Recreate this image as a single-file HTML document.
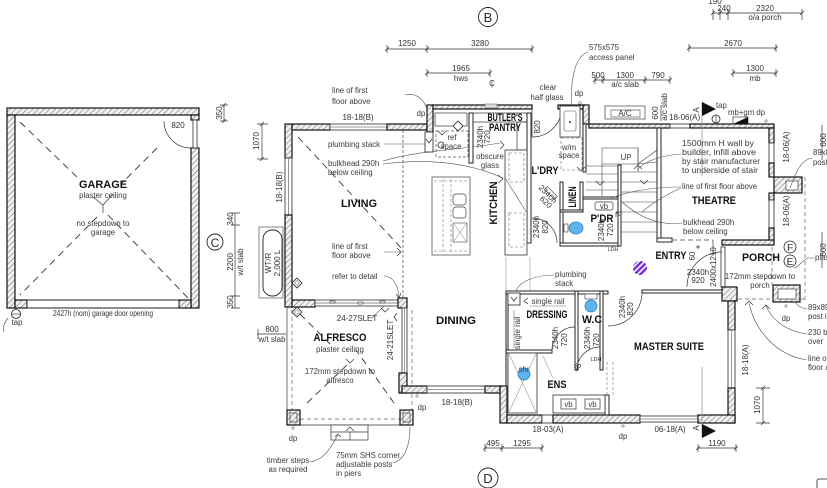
<!DOCTYPE html>
<html><head><meta charset="utf-8">
<style>
html,body{margin:0;padding:0;background:#fff;}
svg{display:block;}
text{font-family:"Liberation Sans",sans-serif;fill:#2a2a2a;}
.r{font-weight:bold;font-size:11px;fill:#111;}
.s{font-size:7.8px;fill:#3a3a3a;}
.d{font-family:"Liberation Sans Narrow","Liberation Sans",sans-serif;font-size:8px;fill:#333;}
.t{font-size:5.5px;fill:#333;}
.w{fill:url(#h);stroke:#111;stroke-width:1.2;}
.win{fill:#fff;stroke:#444;stroke-width:.9;}
.iw{fill:#fff;stroke:#222;stroke-width:1;}
.ln{fill:none;stroke:#333;stroke-width:.7;}
.lf{fill:none;stroke:#555;stroke-width:.6;}
.dash{fill:none;stroke:#333;stroke-width:.9;stroke-dasharray:7 5;}
.fd{fill:none;stroke:#666;stroke-width:.7;stroke-dasharray:4 3;}
</style></head><body>
<svg width="827" height="488" viewBox="0 0 827 488" xmlns="http://www.w3.org/2000/svg">
<defs>
<pattern id="h" width="4" height="4" patternUnits="userSpaceOnUse" patternTransform="rotate(45)">
<rect width="4" height="4" fill="#f0f0f0"/><line x1="0" y1="0" x2="0" y2="4" stroke="#6a6a6a" stroke-width="1"/>
</pattern>
<pattern id="pp" width="4" height="4" patternUnits="userSpaceOnUse" patternTransform="rotate(45)">
<rect width="4" height="4" fill="#7b2fd6"/><rect width="1.5" height="4" fill="#fff"/>
</pattern>
</defs>
<rect width="827" height="488" fill="#fff"/>

<!-- ================= GARAGE ================= -->
<rect x="7" y="108" width="192" height="7" class="w"/>
<rect x="7" y="115" width="8" height="193" class="w"/>
<rect x="191" y="115" width="8" height="5" class="w"/>
<rect x="191" y="148" width="8" height="160" class="w"/>
<rect x="193" y="120" width="4" height="28" class="win"/>
<path d="M164,121 A27,27 0 0,0 191,148" class="ln"/>
<rect x="15" y="300" width="12" height="8" class="w"/>
<rect x="179" y="300" width="12" height="8" class="w"/>
<rect x="27" y="300" width="152" height="8" fill="#fff" stroke="#222" stroke-width="1"/>
<g class="dash">
<line x1="20" y1="122" x2="80" y2="180"/>
<line x1="157" y1="148" x2="122" y2="183"/>
<line x1="97" y1="217" x2="20" y2="295"/>
<line x1="108" y1="215" x2="188" y2="298"/>
</g>
<path d="M93,197 L103,205 L113,194 M103,205 L103,213" class="ln"/>
<text x="103" y="188" class="r" text-anchor="middle" textLength="48" lengthAdjust="spacingAndGlyphs" font-size="12">GARAGE</text>
<text x="103" y="198" class="s" text-anchor="middle">plaster ceiling</text>
<text x="103" y="226" class="s" text-anchor="middle">no stepdown to</text>
<text x="103" y="235" class="s" text-anchor="middle">garage</text>
<text x="178" y="128" class="d" text-anchor="middle" font-size="7">820</text>
<text x="103" y="316" class="d" text-anchor="middle" textLength="100" lengthAdjust="spacingAndGlyphs">2427h (nom) garage door opening</text>
<circle cx="16" cy="314" r="4.5" fill="#fff" stroke="#222" stroke-width=".8"/>
<line x1="11.5" y1="314" x2="20.5" y2="314" stroke="#222" stroke-width=".6"/>
<text x="17" y="325" class="s" text-anchor="middle">tap</text>
<path d="M8,318 Q2,325 4,332" class="lf"/>

<!-- left dims -->
<line x1="224" y1="105" x2="224" y2="121" class="ln"/>
<path d="M220,105 L228,105 M220,121 L228,121 M222,107 L226,103 M222,123 L226,119" class="ln"/>
<text transform="translate(222,113) rotate(-90)" class="d" text-anchor="middle">350</text>
<line x1="262" y1="124" x2="262" y2="159" class="ln"/>
<path d="M257,124 L268,124 M257,159 L268,159 M260,126 L264,122 M260,161 L264,157" class="ln"/>
<text transform="translate(259,141) rotate(-90)" class="d" text-anchor="middle">1070</text>
<text transform="translate(282,187) rotate(-90)" class="d" text-anchor="middle">18-18(B)</text>
<line x1="235" y1="213" x2="235" y2="308" class="ln"/>
<path d="M231,213 L240,213 M231,225 L240,225 M231,296 L240,296 M231,308 L240,308" class="ln"/>
<text transform="translate(233,219) rotate(-90)" class="d" text-anchor="middle">340</text>
<text transform="translate(233,262) rotate(-90)" class="d" text-anchor="middle">2200</text>
<text transform="translate(243,262) rotate(-90)" class="d" text-anchor="middle">w/t slab</text>
<text transform="translate(233,302) rotate(-90)" class="d" text-anchor="middle">350</text>
<circle cx="215" cy="242" r="8" fill="none" stroke="#222" stroke-width=".9"/>
<text x="215" y="247" text-anchor="middle" font-size="12" fill="#222">C</text>
<!-- water tank -->
<rect x="259" y="227" width="24" height="71" fill="none" stroke="#555" stroke-width=".7"/>
<rect x="263" y="230" width="19" height="66" rx="9" fill="none" stroke="#222" stroke-width=".9"/>
<text transform="translate(271,263) rotate(-90)" class="d" text-anchor="middle" font-size="7">WT/R</text>
<text transform="translate(280,263) rotate(-90)" class="d" text-anchor="middle" font-size="7">2,000 L</text>
<text x="272" y="332" class="d" text-anchor="middle">800</text>
<line x1="257" y1="334" x2="286" y2="334" class="ln"/>
<line x1="258" y1="329" x2="258" y2="339" class="ln"/>
<text x="272" y="342" class="d" text-anchor="middle">w/t slab</text>

<!-- ================= LIVING / ALFRESCO ================= -->
<rect x="285" y="124" width="7" height="34" class="w"/>
<rect x="285" y="158" width="7" height="57" class="win"/><line x1="288.5" y1="158" x2="288.5" y2="215" stroke="#777" stroke-width=".8"/>
<rect x="285" y="215" width="7" height="92" class="w"/>
<rect x="292" y="124" width="38" height="6" class="w"/>
<rect x="330" y="124" width="57" height="6" class="win"/><line x1="330" y1="127" x2="387" y2="127" stroke="#777" stroke-width=".8"/>
<rect x="387" y="124" width="40" height="6" class="w"/>
<rect x="427" y="105" width="6" height="27" class="w"/>
<rect x="292" y="300" width="23" height="7" class="w"/>
<rect x="315" y="300" width="83" height="6" class="win"/>
<line x1="315" y1="303" x2="398" y2="303" stroke="#666" stroke-width=".7"/>
<rect x="330" y="301" width="5" height="2" fill="#fff" stroke="#333" stroke-width=".6"/>
<rect x="358" y="302" width="5" height="2" fill="#fff" stroke="#333" stroke-width=".6"/>
<rect x="380" y="301" width="5" height="2" fill="#fff" stroke="#333" stroke-width=".6"/>
<rect x="398" y="298" width="9" height="10" class="w"/>
<!-- dining east wall -->
<rect x="402" y="308" width="5" height="65" class="win"/><line x1="404.5" y1="308" x2="404.5" y2="373" stroke="#777" stroke-width=".7"/>
<rect x="399" y="373" width="8" height="20" class="w"/>
<!-- alfresco -->
<line x1="287" y1="307" x2="287" y2="425" class="ln"/>
<line x1="292" y1="310" x2="292" y2="410" class="fd"/>
<line x1="287" y1="425" x2="413" y2="425" class="ln"/>
<line x1="300" y1="419" x2="400" y2="419" class="fd"/>
<line x1="412" y1="310" x2="412" y2="410" class="fd"/>
<rect x="287" y="410" width="13" height="15" class="w"/>
<rect x="400" y="410" width="13" height="15" class="w"/>
<rect x="290" y="413" width="7" height="9" fill="none" stroke="#222" stroke-width=".6"/>
<rect x="403" y="413" width="7" height="9" fill="none" stroke="#222" stroke-width=".6"/>
<rect x="331" y="425" width="37" height="15" fill="#fff" stroke="#333" stroke-width=".7"/>
<line x1="331" y1="432" x2="368" y2="432" class="ln"/>
<line x1="350" y1="432" x2="350" y2="440" class="ln"/>
<path d="M346,431 L350,427 L354,431" class="ln"/>
<g class="dash">
<line x1="298" y1="137" x2="403" y2="250"/>
<line x1="307" y1="403" x2="348" y2="364"/>
<line x1="394" y1="403" x2="356" y2="350"/>
<line x1="300" y1="314" x2="330" y2="344"/>
</g>
<line x1="403" y1="130" x2="403" y2="298" stroke="#555" stroke-width=".8" stroke-dasharray="3 2"/>
<path d="M346,359 L350,363 L354,359" class="ln"/>
<!-- diamonds -->
<path d="M297,278 L302,283 L297,288 L292,283 Z M297,307 L302,312 L297,317 L292,312 Z" fill="#fff" stroke="#222" stroke-width=".8"/>
<path d="M297,280.5 L299.5,283 L297,285.5 L294.5,283 Z M297,309.5 L299.5,312 L297,314.5 L294.5,312 Z" fill="none" stroke="#222" stroke-width=".5"/>

<!-- living texts -->
<text x="359" y="207" class="r" text-anchor="middle" textLength="36" lengthAdjust="spacingAndGlyphs">LIVING</text>
<text x="332" y="93" class="s">line of first</text>
<text x="332" y="104" class="s">floor above</text>
<path d="M405,95 C416,92 425,100 427,110" class="lf"/>
<text x="421" y="116" class="s" text-anchor="middle">dp</text>
<text x="358" y="120" class="d" text-anchor="middle">18-18(B)</text>
<text x="328" y="147" class="s">plumbing stack</text>
<line x1="384" y1="144" x2="425" y2="144" class="lf"/>
<text x="328" y="166" class="s">bulkhead 290h</text>
<text x="328" y="175" class="s">below ceiling</text>
<path d="M383,161 C420,150 460,150 500,143" class="lf"/>
<path d="M383,164 C430,158 470,163 503,178" class="lf"/>
<text x="332" y="249" class="s">line of first</text>
<text x="332" y="258" class="s">floor above</text>
<line x1="384" y1="252" x2="401" y2="252" class="lf"/>
<path d="M397,248 L401,252 L397,256" class="ln"/>
<text x="332" y="279" class="s">refer to detail</text>
<path d="M384,276 C393,276 398,285 399,297" class="lf"/>
<path d="M396,294 L399,298 L401,293" class="ln"/>
<text x="357" y="321" class="d" text-anchor="middle">24-27SLET</text>
<line x1="372" y1="318" x2="384" y2="306" class="lf"/>
<path d="M381,308 L385,312 L389,308" class="ln"/>
<path d="M397,313 L394,317 L397,321" class="ln"/>
<text transform="translate(393,340) rotate(-90)" class="d" text-anchor="middle">24-21SLET</text>
<text x="340" y="341" class="r" text-anchor="middle" textLength="53" lengthAdjust="spacingAndGlyphs">ALFRESCO</text>
<text x="340" y="352" class="s" text-anchor="middle">plaster ceiling</text>
<text x="340" y="374" class="s" text-anchor="middle">172mm stepdown to</text>
<text x="340" y="383" class="s" text-anchor="middle">alfresco</text>
<text x="293" y="441" class="s" text-anchor="middle">dp</text>
<circle cx="293" cy="428" r="1.2" fill="none" stroke="#333" stroke-width=".5"/>
<text x="288" y="463" class="s" text-anchor="middle">timber steps</text>
<text x="288" y="472" class="s" text-anchor="middle">as required</text>
<path d="M310,462 C325,460 332,445 338,435" class="lf"/>
<path d="M335,437 L338,434 L341,437" class="ln"/>
<text x="336" y="458" class="s">75mm SHS corner</text>
<text x="336" y="467" class="s">adjustable posts</text>
<text x="336" y="476" class="s">in piers</text>
<path d="M393,463 C405,460 410,445 410,427" class="lf"/>
<text x="422" y="410" class="s" text-anchor="middle">dp</text>
<circle cx="417" cy="396" r="1.2" fill="none" stroke="#333" stroke-width=".5"/>

<!-- ================= DINING / KITCHEN ================= -->
<rect x="402" y="386" width="25" height="7" class="w"/>
<rect x="427" y="386" width="58" height="7" class="win"/><line x1="427" y1="389.5" x2="485" y2="389.5" stroke="#777" stroke-width=".7"/>
<rect x="485" y="386" width="15" height="7" class="w"/>
<text x="457" y="405" class="d" text-anchor="middle">18-18(B)</text>
<text x="456" y="324" class="r" text-anchor="middle" textLength="40" lengthAdjust="spacingAndGlyphs">DINING</text>

<!-- top building walls -->
<rect x="433" y="105" width="99" height="4" class="w"/>
<rect x="485" y="104" width="12" height="4" fill="#ddd" stroke="#555" stroke-width=".5"/>
<rect x="558" y="105" width="27" height="4" class="w"/>
<rect x="583" y="105" width="6" height="19" class="w"/>
<path d="M532,137 A30,30 0 0,0 562,107" class="ln"/>
<line x1="532" y1="109" x2="532" y2="137" class="ln"/>
<!-- ref space etc -->
<rect x="435" y="113" width="32" height="13" fill="none" stroke="#333" stroke-width=".7"/>
<rect x="436" y="131" width="32" height="26" fill="none" stroke="#555" stroke-width=".7" stroke-dasharray="3 2"/>
<rect x="425" y="132" width="8" height="20" fill="#fff" stroke="#222" stroke-width=".8"/>
<path d="M426,139 L429,143 L432,139" class="ln"/>
<path d="M458,121 L463,126 L458,131 L453,126 Z" fill="#fff" stroke="#222" stroke-width=".8"/>
<circle cx="441" cy="145" r="3" fill="none" stroke="#222" stroke-width=".8"/>
<path d="M438,131 L442,135 L446,131" class="ln"/>
<text x="452" y="140" class="s" text-anchor="middle">ref</text>
<text x="451" y="149" class="s" text-anchor="middle">space</text>
<!-- pantry -->
<rect x="469" y="113" width="4" height="50" class="iw"/>
<rect x="473" y="113" width="54" height="9" fill="none" stroke="#333" stroke-width=".7"/>
<rect x="517" y="122" width="10" height="28" fill="none" stroke="#333" stroke-width=".7"/>
<text x="505" y="121" class="r" text-anchor="middle" font-size="8.5" textLength="35" lengthAdjust="spacingAndGlyphs">BUTLER'S</text>
<text x="505" y="131" class="r" text-anchor="middle" font-size="8.5" textLength="32" lengthAdjust="spacingAndGlyphs">PANTRY</text>
<text transform="translate(483,137) rotate(-90)" class="d" text-anchor="middle" font-size="7">2340h</text>
<text transform="translate(490,137) rotate(-90)" class="d" text-anchor="middle" font-size="7">720</text>
<text transform="translate(540,127) rotate(-90)" class="d" text-anchor="middle" font-size="7">820</text>
<path d="M500,141 L504,145 L500,149" class="ln"/>
<text x="490" y="159" class="s" text-anchor="middle">obscure</text>
<text x="490" y="168" class="s" text-anchor="middle">glass</text>
<path d="M498,175 L503,179 L498,183" class="ln"/>
<!-- kitchen divider & bench -->
<rect x="527" y="113" width="4" height="130" class="iw"/>
<rect x="505" y="150" width="22" height="105" fill="#fff" stroke="#333" stroke-width=".8"/>
<rect x="509" y="153" width="15" height="29" fill="none" stroke="#666" stroke-width=".6" stroke-dasharray="3 2"/>
<rect x="509" y="213" width="15" height="34" fill="none" stroke="#666" stroke-width=".6" stroke-dasharray="3 2"/>
<line x1="505" y1="178" x2="527" y2="213" class="lf"/>
<line x1="527" y1="243" x2="531" y2="243" class="ln"/>
<text transform="translate(497,203) rotate(-90)" class="r" text-anchor="middle" textLength="43" lengthAdjust="spacingAndGlyphs">KITCHEN</text>
<!-- island -->
<rect x="432" y="177" width="38" height="78" fill="#fff" stroke="#555" stroke-width=".8"/>
<line x1="443" y1="179" x2="443" y2="253" stroke="#777" stroke-width=".6" stroke-dasharray="3 2"/>
<line x1="451" y1="179" x2="451" y2="253" stroke="#777" stroke-width=".6" stroke-dasharray="3 2"/>
<line x1="434" y1="181" x2="468" y2="181" stroke="#777" stroke-width=".6" stroke-dasharray="3 2"/>
<line x1="434" y1="251" x2="468" y2="251" stroke="#777" stroke-width=".6" stroke-dasharray="3 2"/>
<rect x="453" y="194" width="13" height="11" rx="3" fill="none" stroke="#444" stroke-width=".7"/>
<rect x="453" y="207" width="13" height="11" rx="3" fill="none" stroke="#444" stroke-width=".7"/>
<rect x="453" y="223" width="14" height="19" fill="none" stroke="#444" stroke-width=".6"/>
<path d="M454,224 L466,241 M466,224 L454,241" stroke="#777" stroke-width=".5"/>
<line x1="506" y1="257" x2="506" y2="290" stroke="#999" stroke-width=".6"/>
<line x1="530" y1="257" x2="530" y2="290" stroke="#999" stroke-width=".6"/>

<!-- ================= LAUNDRY / P'DR ================= -->
<rect x="560" y="106" width="20" height="31" fill="#fff" stroke="#333" stroke-width=".8"/>
<rect x="564" y="111" width="12" height="20" rx="2" fill="none" stroke="#555" stroke-width=".6"/>
<circle cx="570" cy="122" r="1" fill="#333"/>
<rect x="561" y="138" width="21" height="32" fill="none" stroke="#666" stroke-width=".6" stroke-dasharray="3 2"/>
<text x="569" y="150" class="s" text-anchor="middle">w/m</text>
<text x="569" y="158" class="s" text-anchor="middle">space</text>
<rect x="583" y="124" width="3" height="48" class="iw"/>
<path d="M577,167 L581,171 L585,167" class="ln"/>
<text x="579" y="96" class="s" text-anchor="middle">dp</text>
<circle cx="580" cy="103" r="1.3" fill="none" stroke="#333" stroke-width=".5"/>
<path d="M588,52 C575,56 570,80 572,106" class="lf"/>
<text x="545" y="174" class="r" text-anchor="middle" textLength="27" lengthAdjust="spacingAndGlyphs">L'DRY</text>
<text x="548" y="90" class="s" text-anchor="middle">clear</text>
<text x="547" y="100" class="s" text-anchor="middle">half glass</text>
<!-- linen / pdr -->
<rect x="560" y="182" width="3" height="63" class="iw"/>
<rect x="580" y="182" width="3" height="28" class="iw"/>
<rect x="560" y="210" width="23" height="2" class="iw"/>
<rect x="583" y="197" width="35" height="2" class="iw"/>
<rect x="560" y="243" width="60" height="3" class="iw"/>
<rect x="618" y="165" width="3" height="81" class="iw"/>
<text transform="translate(576,197) rotate(-90)" class="r" text-anchor="middle" font-size="8" textLength="21" lengthAdjust="spacingAndGlyphs">LINEN</text>
<rect x="549" y="186" width="4" height="14" transform="rotate(-45 551 193)" fill="#fff" stroke="#333" stroke-width=".6"/>
<text transform="translate(546,196) rotate(45)" class="d" text-anchor="middle" font-size="6">2340h</text>
<text transform="translate(544,204) rotate(45)" class="d" text-anchor="middle" font-size="6">620</text>
<path d="M532,218 A25,25 0 0,1 557,243" class="ln"/>
<text transform="translate(539,227) rotate(-90)" class="d" text-anchor="middle" font-size="7">2340h</text>
<text transform="translate(548,227) rotate(-90)" class="d" text-anchor="middle" font-size="7">820</text>
<rect x="595" y="202" width="18" height="8" rx="2" fill="#fff" stroke="#333" stroke-width=".7"/>
<text x="604" y="209" class="s" text-anchor="middle" font-size="7">vb</text>
<text x="602" y="222" class="r" text-anchor="middle" font-size="10" textLength="23" lengthAdjust="spacingAndGlyphs">P'DR</text>
<ellipse cx="576" cy="228" rx="7" ry="6" fill="#5fb4ee" stroke="#2a7fc0" stroke-width=".8"/>
<rect x="564" y="224" width="4" height="8" fill="#fff" stroke="#333" stroke-width=".6"/>
<text transform="translate(604,230) rotate(-90)" class="d" text-anchor="middle" font-size="7">2340h</text>
<text transform="translate(613,230) rotate(-90)" class="d" text-anchor="middle" font-size="7">720</text>
<text x="613" y="251" class="t" text-anchor="middle">LDH</text>
<path d="M620,216 L616,212 M616,212 L616,217 M616,212 L621,212" class="ln"/>

<!-- ================= STAIRS ================= -->
<rect x="602" y="148" width="36" height="16" fill="none" stroke="#555" stroke-width=".6"/>
<text x="626" y="160" class="s" text-anchor="middle" font-size="9">UP</text>
<g stroke="#444" stroke-width=".6">
<line x1="586" y1="166" x2="618" y2="166"/>
<line x1="586" y1="174" x2="618" y2="174"/>
<line x1="586" y1="182" x2="618" y2="182"/>
<line x1="586" y1="190" x2="618" y2="190"/>
<line x1="602" y1="164" x2="602" y2="197"/>
<line x1="621" y1="172" x2="657" y2="172"/>
<line x1="621" y1="182" x2="657" y2="182"/>
<line x1="621" y1="192" x2="657" y2="192"/>
<line x1="621" y1="202" x2="657" y2="202"/>
<line x1="621" y1="212" x2="657" y2="212"/>
<line x1="621" y1="222" x2="657" y2="222"/>
<line x1="621" y1="232" x2="657" y2="232"/>
<line x1="638" y1="164" x2="657" y2="150"/>
<line x1="638" y1="164" x2="657" y2="162"/>
<line x1="638" y1="148" x2="638" y2="172"/>
</g>
<path d="M596,181 L600,185 L604,181" class="ln"/>
<path d="M634,169 L638,165 L642,169" class="ln"/>
<path d="M646,178 L642,182 L646,186" class="ln" transform="rotate(-90 644 182)"/>
<!-- theatre walls -->
<rect x="589" y="124" width="81" height="4" class="w"/>
<rect x="670" y="124" width="20" height="4" class="win"/>
<rect x="690" y="124" width="84" height="4" class="w"/>
<rect x="657" y="128" width="4" height="112" class="iw"/>
<rect x="657" y="238" width="15" height="4" class="iw"/>
<line x1="672" y1="240" x2="713" y2="240" stroke="#444" stroke-width=".8" stroke-dasharray="5 3"/>
<line x1="713" y1="240" x2="713" y2="256" class="ln"/>
<rect x="769" y="128" width="5" height="15" class="w"/>
<rect x="769" y="143" width="5" height="20" class="win"/>
<rect x="769" y="163" width="5" height="14" class="w"/>
<rect x="774" y="177" width="28" height="16" class="w"/>
<rect x="786" y="181" width="12" height="9" fill="#fff" stroke="#222" stroke-width=".6"/>
<rect x="769" y="193" width="5" height="7" class="w"/>
<rect x="769" y="200" width="5" height="28" class="win"/>
<rect x="769" y="228" width="5" height="15" class="w"/>
<rect x="722" y="240" width="52" height="5" class="w"/>
<line x1="702" y1="102" x2="702" y2="176" stroke="#888" stroke-width=".7"/>

<text x="682" y="146" class="s" textLength="72" lengthAdjust="spacingAndGlyphs">1500mm H wall by</text>
<text x="682" y="155" class="s" textLength="74" lengthAdjust="spacingAndGlyphs">builder, infill above</text>
<text x="682" y="164" class="s" textLength="78" lengthAdjust="spacingAndGlyphs">by stair manufacturer</text>
<text x="682" y="173" class="s" textLength="76" lengthAdjust="spacingAndGlyphs">to underside of stair</text>
<path d="M681,154 C665,155 645,160 637,170" class="lf"/>
<text x="682" y="189" class="s" textLength="75" lengthAdjust="spacingAndGlyphs">line of first floor above</text>
<path d="M681,187 C660,187 630,190 612,198" class="lf"/>
<path d="M681,188 C665,195 650,205 642,212" class="lf"/>
<text x="714" y="204" class="r" text-anchor="middle" textLength="44" lengthAdjust="spacingAndGlyphs">THEATRE</text>
<text x="683" y="225" class="s">bulkhead 290h</text>
<text x="683" y="234" class="s">below ceiling</text>
<path d="M682,223 C660,226 640,218 622,202" class="lf"/>

<!-- ================= ENTRY / PORCH ================= -->
<text x="671" y="259" class="r" text-anchor="middle" font-size="10" textLength="31" lengthAdjust="spacingAndGlyphs">ENTRY</text>
<text transform="translate(695,256) rotate(-90)" class="d" text-anchor="middle" font-size="7">60</text>
<path d="M696,247 L700,247 M698,245 L698,249" class="ln"/>
<rect x="721" y="247" width="4" height="40" class="win"/>
<path d="M722,252 A35,35 0 0,0 687,287" class="ln"/>
<text x="698" y="275" class="d" text-anchor="middle" font-size="7.5">2340h</text>
<text x="698" y="283" class="d" text-anchor="middle" font-size="7.5">920</text>
<text transform="translate(716,267) rotate(-90)" class="d" text-anchor="middle" font-size="7.5">2400x1210</text>
<circle cx="640" cy="268" r="7" fill="url(#pp)"/>
<text x="555" y="277" class="s">plumbing</text>
<text x="555" y="286" class="s">stack</text>
<path d="M554,275 C535,275 515,282 515,296" class="lf"/>
<text x="761" y="261" class="r" text-anchor="middle" textLength="38" lengthAdjust="spacingAndGlyphs">PORCH</text>
<circle cx="790" cy="247" r="6" fill="#fff" stroke="#222" stroke-width=".8"/>
<text x="790" y="251" text-anchor="middle" font-size="10" fill="#222">F</text>
<circle cx="790" cy="261" r="6" fill="#fff" stroke="#222" stroke-width=".8"/>
<text x="790" y="265" text-anchor="middle" font-size="10" fill="#222">E</text>
<text x="760" y="279" class="s" text-anchor="middle">172mm stepdown to</text>
<text x="760" y="288" class="s" text-anchor="middle">porch</text>
<line x1="772" y1="247" x2="772" y2="285" class="fd"/>
<line x1="805" y1="177" x2="805" y2="302" class="fd"/>
<line x1="738" y1="299" x2="805" y2="299" class="fd"/>
<rect x="773" y="285" width="27" height="17" class="w"/>
<rect x="778" y="289" width="18" height="10" fill="#fff" stroke="#222" stroke-width=".6"/>
<path d="M745,305 L749,301 L753,305 M762,309 L766,305 L770,309" class="ln"/>
<text x="786" y="321" class="s" text-anchor="middle">dp</text>
<circle cx="786" cy="306" r="1.2" fill="none" stroke="#333" stroke-width=".5"/>

<!-- right edge labels -->
<text x="813" y="155" class="s">89x8</text>
<text x="813" y="165" class="s">post</text>
<path d="M812,158 C800,160 795,175 790,188" class="lf"/>
<text x="815" y="260" class="s">plas</text>
<path d="M814,258 L808,258 C800,262 798,268 794,268" class="lf"/>
<text x="808" y="310" class="s">89x89</text>
<text x="808" y="319" class="s">post i</text>
<path d="M807,309 C800,308 797,305 795,302" class="lf"/>
<text x="808" y="335" class="s">230 b</text>
<text x="808" y="344" class="s">over</text>
<path d="M807,334 C780,330 770,315 766,306" class="lf"/>
<text x="808" y="361" class="s">line o</text>
<text x="808" y="370" class="s">floor a</text>
<path d="M807,360 C775,355 755,330 749,303" class="lf"/>
<line x1="822" y1="125" x2="822" y2="160" class="ln"/>
<text transform="translate(826,140) rotate(-90)" class="d" text-anchor="middle" font-size="7">600</text>
<line x1="822" y1="232" x2="822" y2="268" class="ln"/>
<text transform="translate(826,250) rotate(-90)" class="d" text-anchor="middle" font-size="7">600</text>
<text transform="translate(789,147) rotate(-90)" class="d" text-anchor="middle" font-size="7.5">18-06(A)</text>
<text transform="translate(789,211) rotate(-90)" class="d" text-anchor="middle" font-size="7.5">18-06(A)</text>
<rect x="817" y="479" width="12" height="12" rx="2" fill="none" stroke="#222" stroke-width=".8"/>

<!-- ================= MASTER SUITE ================= -->
<rect x="722" y="287" width="15" height="14" class="w"/>
<rect x="728" y="301" width="7" height="29" class="w"/>
<rect x="728" y="330" width="7" height="58" class="win"/><line x1="731.5" y1="330" x2="731.5" y2="388" stroke="#777" stroke-width=".7"/>
<rect x="728" y="388" width="7" height="35" class="w"/>
<rect x="642" y="290" width="80" height="3" class="iw"/>
<rect x="500" y="386" width="7" height="37" class="w"/>
<rect x="507" y="415" width="35" height="8" class="w"/>
<rect x="542" y="415" width="11" height="8" class="win"/>
<rect x="553" y="415" width="87" height="8" class="w"/>
<rect x="640" y="416" width="58" height="6" class="win"/><line x1="640" y1="419" x2="698" y2="419" stroke="#777" stroke-width=".7"/>
<rect x="698" y="415" width="37" height="8" class="w"/>
<!-- interior -->
<rect x="506" y="291" width="102" height="3" class="iw"/>
<rect x="506" y="294" width="2" height="92" class="iw"/>
<rect x="506" y="350" width="46" height="3" class="iw"/>
<rect x="575" y="291" width="3" height="79" class="iw"/>
<rect x="600" y="291" width="3" height="79" class="iw"/>
<rect x="605" y="395" width="4" height="20" class="iw"/>
<line x1="607" y1="362" x2="607" y2="395" stroke="#777" stroke-width=".6" stroke-dasharray="3 2"/>
<line x1="613" y1="362" x2="613" y2="395" stroke="#777" stroke-width=".6" stroke-dasharray="3 2"/>
<path d="M642,292 A34,34 0 0,1 608,326" class="ln"/>
<path d="M552,350 A23,23 0 0,1 575,327" class="ln"/>
<path d="M577,370 A23,23 0 0,1 600,347" class="ln"/>
<rect x="508" y="293" width="12" height="12" fill="#fff" stroke="#222" stroke-width=".8"/>
<path d="M511,297 L514,301 L517,297" class="ln"/>
<path d="M528,298 L524,301 L528,304" class="ln"/>
<line x1="530" y1="306" x2="566" y2="306" stroke="#777" stroke-width=".6"/>
<text x="548" y="304" class="s" text-anchor="middle" font-size="7">single rail</text>
<line x1="514" y1="310" x2="514" y2="348" stroke="#777" stroke-width=".6"/>
<text transform="translate(520,333) rotate(-90)" class="s" text-anchor="middle" font-size="7">single rail</text>
<text x="547" y="318" class="r" text-anchor="middle" font-size="9.5" textLength="41" lengthAdjust="spacingAndGlyphs">DRESSING</text>
<rect x="585" y="294" width="12" height="5" fill="#fff" stroke="#333" stroke-width=".6"/>
<circle cx="591" cy="306" r="6" fill="#5fb4ee" stroke="#2a7fc0" stroke-width=".8"/>
<text x="592" y="323" class="r" text-anchor="middle" textLength="20" lengthAdjust="spacingAndGlyphs">W.C</text>
<text transform="translate(558,338) rotate(-90)" class="d" text-anchor="middle" font-size="7">2340h</text>
<text transform="translate(567,340) rotate(-90)" class="d" text-anchor="middle" font-size="7">720</text>
<text transform="translate(590,338) rotate(-90)" class="d" text-anchor="middle" font-size="7">2340h</text>
<text transform="translate(599,340) rotate(-90)" class="d" text-anchor="middle" font-size="7">720</text>
<text transform="translate(625,307) rotate(-90)" class="d" text-anchor="middle" font-size="7">2340h</text>
<text transform="translate(633,309) rotate(-90)" class="d" text-anchor="middle" font-size="7">820</text>
<text x="596" y="361" class="t" text-anchor="middle">LDH</text>
<text x="577" y="370" class="s" text-anchor="middle" font-size="7" transform="rotate(-60 577 367)">45</text>
<!-- shower -->
<rect x="508" y="353" width="29" height="60" fill="#fff" stroke="#333" stroke-width=".8"/>
<path d="M509,354 L536,412 M536,354 L509,412" stroke="#999" stroke-width=".6"/>
<circle cx="524" cy="374" r="6" fill="#5fb4ee" stroke="#2a7fc0" stroke-width=".8"/>
<text x="524" y="372" class="s" text-anchor="middle" font-size="7">shr</text>
<line x1="543" y1="356" x2="553" y2="378" stroke="#999" stroke-width=".6"/>
<text x="557" y="388" class="r" text-anchor="middle" textLength="19" lengthAdjust="spacingAndGlyphs">ENS</text>
<rect x="553" y="395" width="52" height="18" fill="#fff" stroke="#333" stroke-width=".8"/>
<rect x="561" y="399" width="15" height="10" fill="#fff" stroke="#333" stroke-width=".7"/>
<rect x="585" y="399" width="15" height="10" fill="#fff" stroke="#333" stroke-width=".7"/>
<text x="568.5" y="407" class="s" text-anchor="middle" font-size="7">vb</text>
<text x="592.5" y="407" class="s" text-anchor="middle" font-size="7">vb</text>
<text x="669" y="350" class="r" text-anchor="middle" font-size="10.5" textLength="70" lengthAdjust="spacingAndGlyphs">MASTER SUITE</text>
<text transform="translate(748,360) rotate(-90)" class="d" text-anchor="middle">18-18(A)</text>
<line x1="702" y1="367" x2="702" y2="437" stroke="#888" stroke-width=".7"/>
<polygon points="702,424 716,431 702,438" fill="#111"/>
<text transform="translate(699,428) rotate(-90)" class="d" text-anchor="middle" font-size="6">A</text>
<!-- bottom dims -->
<text x="548" y="432" class="d" text-anchor="middle">18-03(A)</text>
<text x="623" y="439" class="s" text-anchor="middle">dp</text>
<circle cx="623" cy="426" r="1.2" fill="none" stroke="#333" stroke-width=".5"/>
<text x="670" y="432" class="d" text-anchor="middle">06-18(A)</text>
<line x1="485" y1="448" x2="542" y2="448" class="ln"/>
<path d="M485,444 L485,452 M502,444 L502,452 M542,444 L542,452 M483,450 L487,446 M500,450 L504,446 M540,450 L544,446" class="ln"/>
<text x="493" y="446" class="d" text-anchor="middle">495</text>
<text x="522" y="446" class="d" text-anchor="middle">1295</text>
<line x1="698" y1="448" x2="736" y2="448" class="ln"/>
<path d="M698,444 L698,452 M736,444 L736,452 M696,450 L700,446 M734,450 L738,446" class="ln"/>
<text x="717" y="446" class="d" text-anchor="middle">1190</text>
<line x1="763" y1="388" x2="763" y2="423" class="ln"/>
<path d="M756,388 L770,388 M756,423 L770,423 M761,390 L765,386 M761,425 L765,421" class="ln"/>
<text transform="translate(760,405) rotate(-90)" class="d" text-anchor="middle">1070</text>
<circle cx="488" cy="478" r="10" fill="#fff" stroke="#222" stroke-width=".9"/>
<text x="488" y="483" text-anchor="middle" font-size="13" fill="#222">D</text>

<!-- ================= TOP DIMS ================= -->
<circle cx="488" cy="17" r="9.5" fill="#fff" stroke="#222" stroke-width=".9"/>
<text x="488" y="22" text-anchor="middle" font-size="13" fill="#222">B</text>
<line x1="387" y1="49" x2="532" y2="49" class="ln"/>
<path d="M387,45 L387,53 M427,45 L427,53 M532,45 L532,53 M385,51 L389,47 M425,51 L429,47 M530,51 L534,47" class="ln"/>
<text x="407" y="46" class="d" text-anchor="middle">1250</text>
<text x="480" y="46" class="d" text-anchor="middle">3280</text>
<line x1="427" y1="73" x2="490" y2="73" class="ln"/>
<path d="M427,69 L427,77 M490,69 L490,77 M425,75 L429,71 M488,75 L492,71" class="ln"/>
<text x="461" y="71" class="d" text-anchor="middle">1965</text>
<text x="461" y="81" class="d" text-anchor="middle">hws</text>
<text x="492" y="86" class="d" text-anchor="middle" font-size="7">C</text>
<line x1="492" y1="80" x2="492" y2="88" stroke="#333" stroke-width=".5"/>
<text x="589" y="50" class="s">575x575</text>
<text x="589" y="60" class="s">access panel</text>
<line x1="595" y1="80" x2="670" y2="80" class="ln"/>
<path d="M595,76 L595,84 M603,76 L603,84 M645,76 L645,84 M670,76 L670,84 M593,82 L597,78 M601,82 L605,78 M643,82 L647,78 M668,82 L672,78" class="ln"/>
<text x="598" y="78" class="d" text-anchor="middle">500</text>
<text x="625" y="78" class="d" text-anchor="middle">1300</text>
<text x="658" y="78" class="d" text-anchor="middle">790</text>
<text x="625" y="87" class="d" text-anchor="middle">a/c slab</text>
<rect x="605" y="106" width="40" height="13" fill="#fff" stroke="#444" stroke-width=".7"/>
<rect x="611" y="110" width="29" height="7" fill="#fff" stroke="#444" stroke-width=".6"/>
<text x="625" y="116" class="d" text-anchor="middle" font-size="6.5">A/C</text>
<text transform="translate(658,113) rotate(-90)" class="d" text-anchor="middle" font-size="7">600</text>
<text transform="translate(667,107) rotate(-90)" class="d" text-anchor="middle" font-size="7">a/c slab</text>
<line x1="661" y1="105" x2="661" y2="121" class="ln"/>
<text x="669" y="120" class="d" font-size="7.5">18-06(A)</text>
<line x1="689" y1="48" x2="776" y2="48" class="ln"/>
<path d="M689,44 L689,52 M776,44 L776,52 M687,50 L691,46 M774,50 L778,46" class="ln"/>
<text x="733" y="46" class="d" text-anchor="middle">2670</text>
<line x1="733" y1="73" x2="776" y2="73" class="ln"/>
<path d="M733,69 L733,77 M776,69 L776,77 M731,75 L735,71 M774,75 L778,71" class="ln"/>
<text x="755" y="71" class="d" text-anchor="middle">1300</text>
<text x="755" y="81" class="d" text-anchor="middle">mb</text>
<line x1="713" y1="13" x2="802" y2="13" class="ln"/>
<path d="M713,9 L713,20 M720,9 L720,20 M728,9 L728,20 M802,9 L802,20 M711,15 L715,11 M718,15 L722,11 M726,15 L730,11 M800,15 L804,11" class="ln"/>
<text x="715" y="4" class="d" text-anchor="middle" font-size="7">190</text>
<text x="724" y="11" class="d" text-anchor="middle">240</text>
<text x="765" y="11" class="d" text-anchor="middle">2320</text>
<text x="765" y="20" class="d" text-anchor="middle">o/a porch</text>
<!-- tap flag -->
<polygon points="702,102 716,109 702,116" fill="#111"/>
<text x="716" y="108" class="s">tap</text>
<text transform="translate(699,110) rotate(-90)" class="d" text-anchor="middle" font-size="6">A</text>
<circle cx="716" cy="119" r="4" fill="#fff" stroke="#222" stroke-width=".8"/>
<line x1="716" y1="115" x2="716" y2="123" stroke="#222" stroke-width=".6"/>
<text x="728" y="115" class="s">mb+gm dp</text>
<rect x="733" y="117" width="15" height="7" fill="#fff" stroke="#222" stroke-width=".6"/>
<polygon points="733,124 748,117 748,124" fill="#111"/>
<circle cx="766" cy="121" r="1.2" fill="none" stroke="#333" stroke-width=".5"/>
</svg>
</body></html>
